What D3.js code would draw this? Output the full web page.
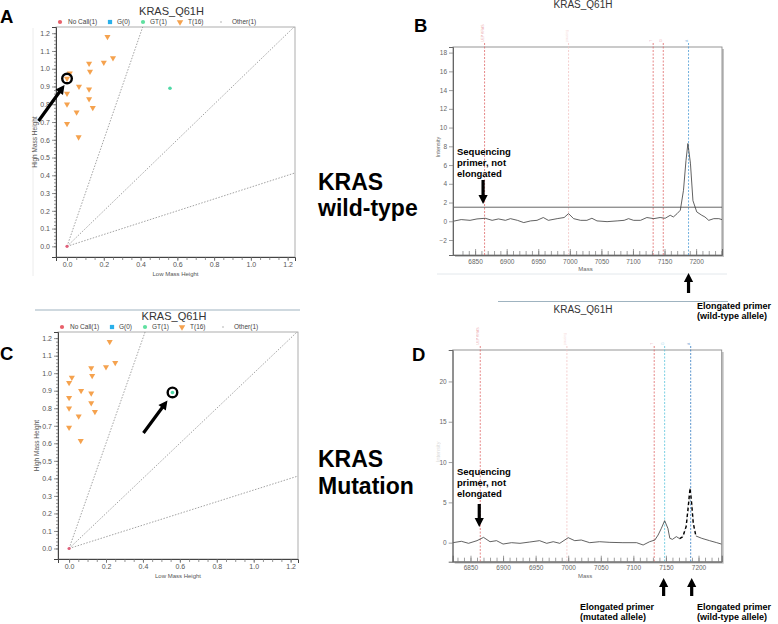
<!DOCTYPE html>
<html>
<head>
<meta charset="utf-8">
<script src="https://cdn.jsdelivr.net/npm/d3@7"></script>
<style>
  body { margin: 0; background: #fff; }
  svg { display: block; }
</style>
</head>
<body>
<svg id="fig" width="778" height="624"></svg>
<script>
// ---- data ----
const assayName = "KRAS_Q61H";
const legendLabels = ["No Call(1)", "G(0)", "GT(1)", "T(16)", "Other(1)"];

// genotype cluster plot (same plate shown in A and C)
const tLow  = [0.22, 0.25, 0.20, 0.12, 0.125, 0.015, 0.0, 0.065, 0.12, 0.0, 0.12, 0.0, 0.14, 0.052, 0.0, 0.063];
const tHigh = [1.18, 1.06, 1.035, 1.03, 0.985, 0.975, 0.945, 0.90, 0.885, 0.86, 0.83, 0.80, 0.78, 0.755, 0.69, 0.615];
const gtLow = [0.56], gtHigh = [0.89];
const noCallLow = [0.0], noCallHigh = [0.0];
const ratioSlopes = [3, 1, 1 / 3];
const heightTicks = [0, 0.1, 0.2, 0.3, 0.4, 0.5, 0.6, 0.7, 0.8, 0.9, 1.0, 1.1, 1.2];
const heightLabelTicks = [0, 0.2, 0.4, 0.6, 0.8, 1.0, 1.2];

// mass spectra
const massWT = [6815, 6828, 6842, 6853, 6866, 6877, 6887, 6898, 6906, 6917, 6927, 6938, 6948, 6958, 6966,
  6980, 6991, 6998, 7006, 7017, 7027, 7035, 7043, 7059, 7075, 7086, 7093, 7101, 7112, 7122,
  7133, 7143, 7151, 7159, 7164, 7170, 7175, 7180, 7184, 7187, 7191, 7195, 7201, 7209, 7214,
  7220, 7228, 7236, 7241];
const intensityWT = [0, 0.18, 0.1, 0.25, 0.32, 0.1, 0.25, 0.1, 0.28, 0.1, -0.14, 0.04, 0.1, 0.4, 0.1,
  0.28, 0.4, 0.82, 0.28, 0.1, 0.1, 0.32, 0.04, -0.04, 0.04, 0.1, 0.28, 0.1, 0.1, 0.4,
  0.28, 0.4, 0.32, 0.64, 0.46, 0.82, 1.18, 3.3, 6.5, 8.3, 6.2, 2.2, 1.0, 0.64, 0.46,
  0.1, 0.28, 0.28, 0.18];
const massMut = [6823, 6836, 6847, 6860, 6870, 6880, 6890, 6900, 6913, 6926, 6941, 6956, 6967, 6977, 6987,
  7000, 7010, 7020, 7033, 7048, 7064, 7084, 7105, 7115, 7125, 7133, 7138, 7143, 7148, 7153,
  7156, 7160, 7166, 7171, 7176, 7181, 7184, 7187, 7189, 7192, 7196, 7205, 7217, 7228, 7235];
const intensityMut = [0, 0.17, -0.08, 0.25, 0.66, 0.12, 0.25, -0.17, 0, -0.08, 0.08, 0.25, -0.08, 0.12, -0.08,
  0.62, 0.25, 0.33, 0, 0.12, 0.04, 0, 0, -0.29, 0.12, 0.33, 0.95, 1.78, 2.73, 1.78,
  0.54, 0.41, 0.75, 0.5, 0.75, 2.0, 4.26, 6.75, 5.3, 2.4, 0.83, 0.54, 0.25, 0, -0.17];
const mutDashedFrom = 7171, mutDashedTo = 7196;
const massTicks = [6850, 6900, 6950, 7000, 7050, 7100, 7150, 7200];
const intensityTicksWT = [-2, 0, 2, 4, 6, 8, 10, 12, 14, 16, 18];
const intensityTicksMut = [0, 5, 10, 15, 20];
const thresholdWT = 1.5;
const markerMass = [6865, 6998, 7132, 7148, 7188];
const markerNames = ["UEP KRAS", "pausing", "T", "G", "A"];

// ---- drawing ----
const FONT = "'Liberation Sans', Arial, sans-serif";
const svg = d3.select("#fig");

// block arrow from tail (x1,y1) to tip (x2,y2)
const blockArrow = (g, x1, y1, x2, y2) => {
  const len = Math.hypot(x2 - x1, y2 - y1);
  const ang = Math.atan2(y2 - y1, x2 - x1) * 180 / Math.PI;
  const sw = 1.6, hw = 4.6, hl = 9;
  const pts = [[0, -sw], [len - hl, -sw], [len - hl, -hw], [len, 0], [len - hl, hw], [len - hl, sw], [0, sw]];
  g.append("polygon")
    .attr("points", pts.map(p => p.join(",")).join(" "))
    .attr("transform", `translate(${x1},${y1}) rotate(${ang})`)
    .attr("fill", "#000");
};

const boldLines = (g, x, y, lines, size, gap) => {
  const t = g.append("text")
    .attr("x", x).attr("y", y)
    .style("font-family", FONT).style("font-weight", "bold").style("font-size", size + "px")
    .attr("fill", "#000");
  lines.forEach((s, i) => t.append("tspan").attr("x", x).attr("dy", i === 0 ? 0 : gap).text(s));
};

const drawScatter = (g, box, id) => {
  const x = d3.scaleLinear().domain([-0.06, 1.24]).range([box.left, box.right]);
  const y = d3.scaleLinear().domain([-0.06, 1.235]).range([box.bottom, box.top]);
  const mid = (box.left + box.right) / 2;

  g.append("clipPath").attr("id", id)
    .append("rect").attr("x", box.left).attr("y", box.top)
    .attr("width", box.right - box.left).attr("height", box.bottom - box.top);

  g.append("rect")
    .attr("x", box.left).attr("y", box.top)
    .attr("width", box.right - box.left).attr("height", box.bottom - box.top)
    .attr("fill", "#fff").attr("stroke", "#9a9a9a").attr("stroke-width", 0.8);

  // ratio guide lines
  const xMax = x.domain()[1], yMax = y.domain()[1];
  g.append("g").attr("clip-path", `url(#${id})`)
    .selectAll("line").data(ratioSlopes).enter().append("line")
    .attr("x1", x(0)).attr("y1", y(0))
    .attr("x2", k => x(Math.min(xMax, yMax / k) + 0.05))
    .attr("y2", k => y(k * (Math.min(xMax, yMax / k) + 0.05)))
    .attr("stroke", "#8a8a8a").attr("stroke-width", 0.8).attr("stroke-dasharray", "1.5,1.5");

  // axes
  const yAxis = g.append("g").attr("transform", `translate(${box.left},0)`)
    .call(d3.axisLeft(y).tickValues(heightTicks).tickSize(4).tickPadding(2).tickFormat(d3.format(".1f")));
  g.append("g").attr("transform", `translate(${box.left},0)`)
    .call(d3.axisLeft(y).tickValues(d3.range(0, 1.201, 0.02)).tickSize(2).tickFormat(""))
    .call(a => a.select(".domain").remove());
  const xAxis = g.append("g").attr("transform", `translate(0,${box.bottom})`)
    .call(d3.axisBottom(x).tickValues(heightLabelTicks).tickSize(4).tickPadding(1).tickFormat(d3.format(".1f")));
  g.append("g").attr("transform", `translate(0,${box.bottom})`)
    .call(d3.axisBottom(x).tickValues(d3.range(0, 1.201, 0.05)).tickSize(3).tickFormat(""))
    .call(a => a.select(".domain").remove());
  [yAxis, xAxis].forEach(a => {
    a.select(".domain").attr("stroke", "#444");
    a.selectAll(".tick line").attr("stroke", "#555");
    a.selectAll("text").style("font-family", FONT).style("font-size", "7px").attr("fill", "#555");
  });
  g.selectAll(".tick line").attr("stroke", "#666").attr("stroke-width", 0.7);

  g.append("text").attr("transform", `translate(${box.left - 19},${(box.top + box.bottom) / 2}) rotate(-90)`)
    .attr("text-anchor", "middle").style("font-family", FONT).style("font-size", "6.5px")
    .attr("fill", "#555").text("High Mass Height");
  g.append("text").attr("x", mid).attr("y", box.bottom + 19)
    .attr("text-anchor", "middle").style("font-family", FONT).style("font-size", "6px")
    .attr("fill", "#555").text("Low Mass Height");

  g.append("text").attr("x", mid - 4).attr("y", box.top - 12)
    .attr("text-anchor", "middle").style("font-family", FONT).style("font-size", "11px")
    .attr("fill", "#333").text(assayName);

  // legend
  const ly = box.top - 5;
  const lg = g.append("g").style("font-family", FONT).style("font-size", "6.5px").attr("fill", "#444");
  const legendX = [[4, 12], [54, 61], [87, 94], [124, 132], [165, 176]];
  legendLabels.forEach((lab, i) => {
    lg.append("text").attr("x", box.left + legendX[i][1]).attr("y", ly + 2.3).text(lab);
  });
  const sym = [
    d3.symbol(d3.symbolCircle, 14), d3.symbol(d3.symbolSquare, 18), d3.symbol(d3.symbolCircle, 14),
    d3.symbol(d3.symbolTriangle, 18), d3.symbol(d3.symbolCircle, 1.5)
  ];
  const symColor = ["#e8606a", "#2ab0ea", "#5fe0a0", "#f5a24e", "#999"];
  legendLabels.forEach((lab, i) => {
    lg.append("path").attr("d", sym[i]())
      .attr("transform", `translate(${box.left + legendX[i][0]},${ly}) rotate(${i === 3 ? 180 : 0})`)
      .attr("fill", symColor[i]);
  });

  // points
  const tri = d3.symbol(d3.symbolTriangle, 16);
  g.append("g").selectAll("path").data(tLow).enter().append("path")
    .attr("d", tri())
    .attr("transform", (d, i) => `translate(${x(d)},${y(tHigh[i])}) rotate(180)`)
    .attr("fill", "#f5a24e");
  g.append("g").selectAll("circle").data(gtLow).enter().append("circle")
    .attr("cx", d => x(d)).attr("cy", (d, i) => y(gtHigh[i])).attr("r", 1.8)
    .attr("fill", "#4fd9a6");
  g.append("g").selectAll("circle").data(noCallLow).enter().append("circle")
    .attr("cx", d => x(d)).attr("cy", (d, i) => y(noCallHigh[i])).attr("r", 1.6)
    .attr("fill", "#e0607a");

  return { x, y };
};

const drawSpectrum = (g, cfg) => {
  const x = d3.scaleLinear().domain(cfg.xDomain).range([cfg.left, cfg.right]);
  const y = d3.scaleLinear().domain(cfg.yDomain).range([cfg.bottom, cfg.top]);
  const w = cfg.right - cfg.left, h = cfg.bottom - cfg.top;

  g.append("rect").attr("x", cfg.left + 2).attr("y", cfg.top + 2).attr("width", w).attr("height", h)
    .attr("fill", "#c4c4c4");
  g.append("rect").attr("x", cfg.left).attr("y", cfg.top).attr("width", w).attr("height", h)
    .attr("fill", "#fff").attr("stroke", "#8a8a8a").attr("stroke-width", 0.9);

  // marker lines + tiny names above the frame
  g.append("g").selectAll("line").data(markerMass).enter().append("line")
    .attr("x1", d => x(d)).attr("x2", d => x(d))
    .attr("y1", cfg.top - 4).attr("y2", cfg.bottom)
    .attr("stroke", (d, i) => cfg.markerColors[i]).attr("stroke-width", 0.8)
    .attr("stroke-dasharray", "2,1.5");
  g.append("g").selectAll("text").data(markerMass).enter().append("text")
    .attr("transform", d => `translate(${x(d) - 1},${cfg.top - 5}) rotate(-90)`)
    .style("font-family", FONT).style("font-size", "3.5px")
    .attr("fill", (d, i) => cfg.markerColors[i]).attr("opacity", 0.6)
    .text((d, i) => markerNames[i]);

  if (cfg.threshold !== undefined) {
    g.append("line").attr("x1", cfg.left).attr("x2", cfg.right)
      .attr("y1", y(cfg.threshold)).attr("y2", y(cfg.threshold))
      .attr("stroke", "#555").attr("stroke-width", 0.9);
  }

  const pts = cfg.mass.map((m, i) => [m, cfg.intensity[i]]);
  const line = d3.line().x(d => x(d[0])).y(d => y(d[1]));
  g.append("path").datum(pts).attr("d", line)
    .attr("fill", "none").attr("stroke", "#3a3a3a").attr("stroke-width", 0.8);
  if (cfg.dashFrom !== undefined) {
    g.append("path").datum(pts.filter(p => p[0] >= cfg.dashFrom && p[0] <= cfg.dashTo)).attr("d", line)
      .attr("fill", "none").attr("stroke", "#fff").attr("stroke-width", 1.4);
    g.append("path").datum(pts.filter(p => p[0] >= cfg.dashFrom && p[0] <= cfg.dashTo)).attr("d", line)
      .attr("fill", "none").attr("stroke", "#000").attr("stroke-width", 1.4).attr("stroke-dasharray", "3.5,2.5");
  }

  const xa = g.append("g").attr("transform", `translate(0,${cfg.bottom})`)
    .call(d3.axisBottom(x).tickValues(massTicks).tickSize(-6).tickPadding(4).tickFormat(d3.format("d")));
  g.append("g").attr("transform", `translate(0,${cfg.bottom})`)
    .call(d3.axisBottom(x).tickValues(d3.range(6830, cfg.xDomain[1], 10)).tickSize(-4).tickFormat(""))
    .call(a => a.select(".domain").remove());
  const ya = g.append("g").attr("transform", `translate(${cfg.left},0)`)
    .call(d3.axisLeft(y).tickValues(cfg.yTicks).tickSize(4).tickPadding(2).tickFormat(d3.format("d")));
  [xa, ya].forEach(a => {
    a.select(".domain").attr("stroke", "#666");
    a.selectAll("text").style("font-family", FONT).style("font-size", "6.5px").attr("fill", "#666");
  });
  g.selectAll(".tick line").attr("stroke", "#777").attr("stroke-width", 0.7);

  g.append("text").attr("x", (cfg.left + cfg.right) / 2 - 2).attr("y", cfg.bottom + 16)
    .attr("text-anchor", "middle").style("font-family", FONT).style("font-size", "6px")
    .attr("fill", "#666").text("Mass");
  g.append("text").attr("transform", `translate(${cfg.left - 13},${(cfg.top + cfg.bottom) / 2 - 4}) rotate(-90)`)
    .attr("text-anchor", "middle").style("font-family", FONT).style("font-size", "5.5px")
    .attr("fill", "#666").attr("opacity", cfg.yLabelOpacity).text("Intensity");

  g.append("text").attr("x", 583).attr("y", cfg.titleY)
    .attr("text-anchor", "middle").style("font-family", FONT).style("font-size", "10px")
    .attr("fill", "#333").text(assayName);
  return { x, y };
};

// faint page edges / separators
svg.append("line").attr("x1", 33).attr("x2", 33).attr("y1", 28).attr("y2", 276).attr("stroke", "#ececec");
svg.append("line").attr("x1", 437).attr("x2", 727).attr("y1", 274).attr("y2", 274).attr("stroke", "#e3e8ec");
svg.append("line").attr("x1", 35).attr("x2", 300).attr("y1", 310).attr("y2", 310).attr("stroke", "#9fb3c0");
svg.append("line").attr("x1", 498).attr("x2", 728).attr("y1", 301.5).attr("y2", 301.5).attr("stroke", "#9fb3c0");

// panel A
const gA = svg.append("g");
const sA = drawScatter(gA, { left: 56, right: 295, top: 27, bottom: 257 }, "clipA");
const ax = sA.x(tLow[6]), ay = sA.y(tHigh[6]);
gA.append("circle").attr("cx", ax).attr("cy", ay).attr("r", 4.8)
  .attr("fill", "none").attr("stroke", "#000").attr("stroke-width", 2.4);
blockArrow(gA, ax - 28.5, ay + 42.5, ax - 2.5, ay + 6.5);

// panel C
const gC = svg.append("g");
const sC = drawScatter(gC, { left: 58, right: 298, top: 332, bottom: 559 }, "clipC");
const cx = sC.x(gtLow[0]), cy = sC.y(gtHigh[0]);
gC.append("circle").attr("cx", cx).attr("cy", cy).attr("r", 4.8)
  .attr("fill", "none").attr("stroke", "#000").attr("stroke-width", 2.4);
blockArrow(gC, cx - 29, cy + 40.5, cx - 5, cy + 8);

// panel B
const gB = svg.append("g");
const sB = drawSpectrum(gB, {
  left: 453, right: 722, top: 47, bottom: 255,
  xDomain: [6815, 7241], yDomain: [-3.6, 18.6], yTicks: intensityTicksWT,
  mass: massWT, intensity: intensityWT, threshold: thresholdWT,
  markerColors: ["#e06a6a", "#f2c4c4", "#e06a6a", "#e06a6a", "#4a9ad6"],
  titleY: 8, yLabelOpacity: 1
});
boldLines(gB, 457, 155, ["Sequencing", "primer, not", "elongated"], 9.5, 10.8);
blockArrow(gB, sB.x(markerMass[0]) - 1.5, 180, sB.x(markerMass[0]) - 1.5, 204);
blockArrow(gB, sB.x(markerMass[4]), 293, sB.x(markerMass[4]), 273);
boldLines(gB, 697, 309, ["Elongated primer", "(wild-type allele)"], 9, 9.5);

// panel D
const gD = svg.append("g");
const sD = drawSpectrum(gD, {
  left: 452.7, right: 721.7, top: 350, bottom: 561.7,
  xDomain: [6822.7, 7235.6], yDomain: [-2.36, 23.9], yTicks: intensityTicksMut,
  mass: massMut, intensity: intensityMut, dashFrom: mutDashedFrom, dashTo: mutDashedTo,
  markerColors: ["#e06a6a", "#f2c4c4", "#e06a6a", "#5cc4dc", "#2f78c0"],
  titleY: 313, yLabelOpacity: 0.25
});
boldLines(gD, 457, 475, ["Sequencing", "primer, not", "elongated"], 9.5, 10.8);
blockArrow(gD, sD.x(markerMass[0]) - 1, 504, sD.x(markerMass[0]) - 1, 527);
blockArrow(gD, sD.x(markerMass[3]) - 1, 596, sD.x(markerMass[3]) - 1, 578);
blockArrow(gD, sD.x(markerMass[4]) + 1, 596, sD.x(markerMass[4]) + 1, 578);
boldLines(gD, 580, 610, ["Elongated primer", "(mutated allele)"], 9, 9.5);
boldLines(gD, 697, 610, ["Elongated primer", "(wild-type allele)"], 9, 9.5);

// panel letters and row captions
const big = svg.append("g").style("font-family", FONT).style("font-weight", "bold").attr("fill", "#000");
[["A", 0, 23], ["B", 414, 32], ["C", 0, 360], ["D", 412, 361]].forEach(([s, x, y]) =>
  big.append("text").attr("x", x).attr("y", y).style("font-size", "18.5px").text(s));
[["KRAS", 318, 190], ["wild-type", 318, 215.5], ["KRAS", 318, 466.5], ["Mutation", 318, 493.5]].forEach(([s, x, y]) =>
  big.append("text").attr("x", x).attr("y", y).style("font-size", "23px").text(s));
</script>
</body>
</html>
